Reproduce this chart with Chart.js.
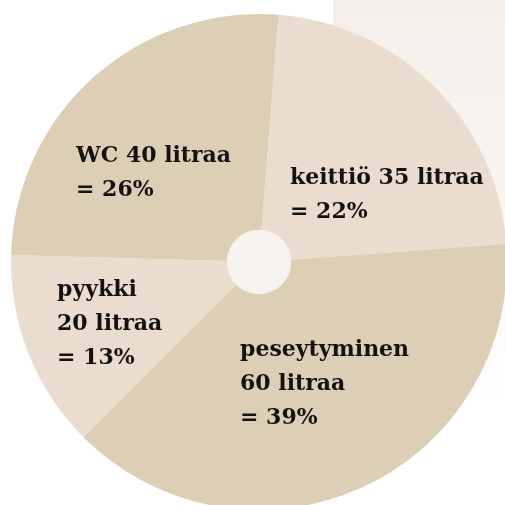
<!DOCTYPE html>
<html>
<head>
<meta charset="utf-8">
<script src="https://cdn.jsdelivr.net/npm/chart.js@4"></script>
<style>
  html, body { margin: 0; padding: 0; background: #ffffff; overflow: hidden; width: 505px; height: 505px; }
  #strip {
    position: absolute; left: 333px; top: 0; width: 172px; height: 400px;
    background: linear-gradient(to bottom, #f4efe9 0%, #f8f5f1 50%, #ffffff 100%);
  }
  #wrap { position: absolute; left: 0; top: 0; width: 520px; height: 520px; }
</style>
</head>
<body>
<div id="strip"></div>
<div id="wrap"><canvas id="chart" width="520" height="520"></canvas></div>
<script>
// water use per person per day, litres
const categories = ["keittiö", "peseytyminen", "pyykki", "WC"];
const litres = [35, 60, 20, 40];
const percents = [22, 39, 13, 26];
const labelLines = [
  ["keittiö 35 litraa", "= 22%"],
  ["peseytyminen", "60 litraa", "= 39%"],
  ["pyykki", "20 litraa", "= 13%"],
  ["WC 40 litraa", "= 26%"]
];

const sliceColors = ["#eaddd0", "#ddcfb5", "#eaddd0", "#ddcfb5"];

// left edge / first baseline of each label block, relative to pie centre
const labelOffsets = [[31, -78], [-19, 94], [-202, 34], [-183, -100]];

const sliceLabels = {
  id: "sliceLabels",
  afterDatasetsDraw(chart) {
    const ctx = chart.ctx;
    const arc = chart.getDatasetMeta(0).data[0];
    const cx = arc.x, cy = arc.y;

    // centre hole
    ctx.save();
    ctx.beginPath();
    ctx.arc(cx, cy, arc.innerRadius, 0, Math.PI * 2);
    ctx.fillStyle = "#f6f2ee";
    ctx.fill();

    ctx.fillStyle = "#141210";
    ctx.font = "bold 22px 'DejaVu Serif'";
    ctx.textAlign = "left";
    ctx.textBaseline = "alphabetic";
    labelLines.forEach((lines, i) => {
      const [dx, dy] = labelOffsets[i];
      lines.forEach((t, j) => {
        ctx.fillText(t, cx + dx, cy + dy + j * 34);
      });
    });
    ctx.restore();
  }
};

new Chart(document.getElementById("chart"), {
  type: "doughnut",
  data: {
    labels: categories,
    datasets: [{
      data: litres,
      backgroundColor: sliceColors,
      borderWidth: 0
    }]
  },
  options: {
    responsive: false,
    animation: false,
    rotation: 4.5,
    cutout: 32,
    layout: { padding: { left: 11, top: 14, right: 13, bottom: 10 } },
    plugins: {
      legend: { display: false },
      tooltip: { enabled: false }
    }
  },
  plugins: [sliceLabels]
});
</script>
</body>
</html>
